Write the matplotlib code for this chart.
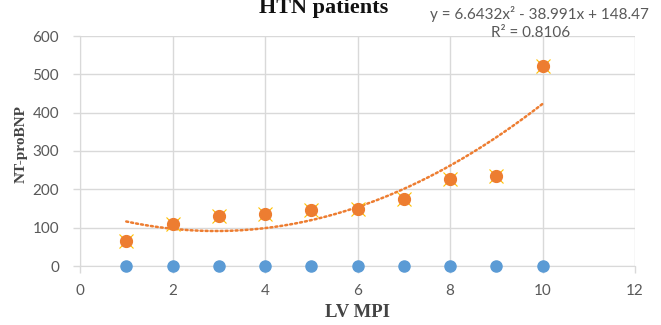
import matplotlib
matplotlib.use("Agg")
import matplotlib.pyplot as plt
import numpy as np

# Data
x_vals = [1, 2, 3, 4, 5, 6, 7, 8, 9, 10]
nt_probnp = [66, 110, 130, 135, 146, 148, 176, 228, 234, 521]
blue_vals = [0, 0, 0, 0, 0, 0, 0, 0, 0, 0]
trend_coefs = [6.6432, -38.991, 148.47]
r_squared = 0.8106
x_ticks = [0, 2, 4, 6, 8, 10, 12]
y_ticks = [0, 100, 200, 300, 400, 500, 600]

W, H = 661, 325
fig = plt.figure(figsize=(W / 100, H / 100), dpi=100)
left, right = 80 / W, 635 / W
bottom, top = 1 - 266 / H, 1 - 36 / H
ax = fig.add_axes([left, bottom, right - left, top - bottom])

grid_c = "#d9d9d9"
tick_c = "#595959"

ax.set_xlim(0, 12)
ax.set_ylim(0, 600)
ax.set_xticks(x_ticks)
ax.set_yticks(y_ticks)
ax.grid(True, color=grid_c, linewidth=1)
ax.set_axisbelow(True)
for s in ["top", "right"]:
    ax.spines[s].set_visible(False)
ax.spines["left"].set_color(grid_c)
ax.spines["bottom"].set_color(grid_c)
ax.tick_params(axis="both", colors=grid_c, length=5, width=1, labelcolor=tick_c,
               labelsize=11)
ax.tick_params(axis="x", pad=8)
ax.tick_params(axis="y", pad=10)
for lab in ax.get_xticklabels() + ax.get_yticklabels():
    lab.set_family("Lato")

# trendline
xs = np.linspace(min(x_vals), max(x_vals), 200)
ys = np.polyval(trend_coefs, xs)
ax.plot(xs, ys, color="#ED7D31", linewidth=1.8, linestyle=(0, (0.8, 1.2)),
        dash_capstyle="round", zorder=2)

# blue series
ax.plot(x_vals, blue_vals, linestyle="none", marker="o", markersize=8,
        color="#5B9BD5", clip_on=False, zorder=3)

# orange series with yellow x behind
ax.plot(x_vals, nt_probnp, linestyle="none", marker="x", markersize=10,
        markeredgewidth=0.8, color="#FFC000", zorder=3, clip_on=False)
ax.plot(x_vals, nt_probnp, linestyle="none", marker="o", markersize=8.5,
        color="#ED7D31", zorder=4, clip_on=False)

# labels
ax.set_xlabel("LV MPI", family="Liberation Serif", fontweight="bold",
              fontsize=13.5, color="#444444")
ax.set_ylabel("NT-proBNP", family="Liberation Serif", fontweight="bold",
              fontsize=11, color="#444444")
ax.xaxis.set_label_coords(0.5, -0.165)
ax.yaxis.set_label_coords(-0.095, 0.53)

fig.text(324 / W, 1 - 13 / H, "HTN patients", family="Liberation Serif",
         fontweight="bold", fontsize=16, ha="center", va="baseline", color="#111111")

eq = "y = 6.6432x\u00b2 - 38.991x + 148.47"
fig.text(539 / W, 1 - 14 / H, eq, family="Lato", fontsize=11, ha="center",
         va="center", color=tick_c)
fig.text(531 / W, 1 - 33 / H, "R\u00b2 = %.4f" % r_squared, family="Lato",
         fontsize=11, ha="center", va="center", color=tick_c)

fig.savefig("out.png", dpi=100)
